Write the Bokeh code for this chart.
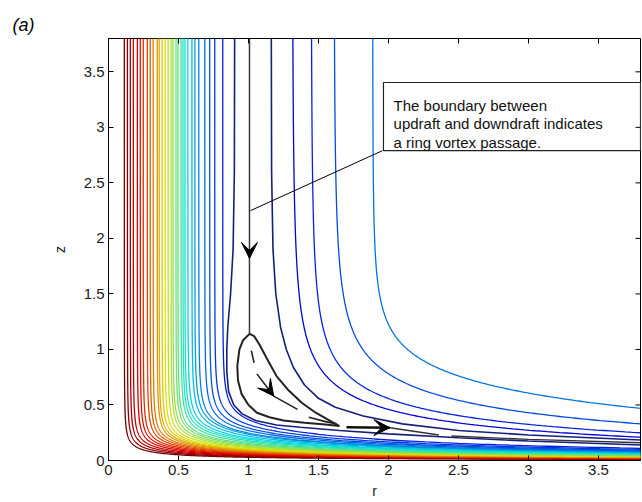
import numpy as np
from bokeh.plotting import figure
from bokeh.models import Range1d, Label, Arrow, VeeHead, FixedTicker
from bokeh.embed import file_html
from bokeh.resources import INLINE

R_MAX, Z_MAX = 3.8, 3.8

# ---------------- data ----------------
# inner (updraft side) contour lines: r where each stands vertical at the top,
# and z where it leaves the right edge of the frame
inner_r_top = [0.113, 0.135, 0.156, 0.177, 0.206, 0.227, 0.248, 0.277, 0.298, 0.319,
               0.348, 0.362, 0.383, 0.404, 0.426, 0.447, 0.461, 0.482, 0.496, 0.518,
               0.532, 0.546, 0.567, 0.596, 0.617, 0.645, 0.688, 0.723, 0.759, 0.816]
inner_z_right = [0.010, 0.012, 0.014, 0.016, 0.018, 0.020, 0.022, 0.024, 0.026, 0.028,
                 0.030, 0.032, 0.034, 0.036, 0.039, 0.042, 0.045, 0.048, 0.051, 0.055,
                 0.059, 0.063, 0.067, 0.072, 0.077, 0.080, 0.086, 0.092, 0.100, 0.110]

# outer (downdraft side) contour lines, with how sharply each bends
outer_r_top = [1.312, 1.447, 1.610, 1.887]
outer_z_right = [0.21, 0.25, 0.33, 0.47]
outer_knee = [2.5, 2.8, 3.0, 4.5]

# dark line just inside the boundary (bends round the vortex)
navy_in_r = [0.901, 0.899, 0.890, 0.872, 0.852, 0.845, 0.845, 0.858, 0.895, 0.955,
             1.050, 1.200, 1.370, 1.650, 2.000, 2.500, 3.000, 3.800]
navy_in_z = [3.80, 2.60, 1.90, 1.50, 1.20, 1.00, 0.80, 0.62, 0.50, 0.42,
             0.36, 0.32, 0.30, 0.27, 0.24, 0.205, 0.175, 0.14]

# dark line just outside the boundary
navy_out_r = [1.163, 1.165, 1.175, 1.195, 1.229, 1.270, 1.320, 1.400, 1.500, 1.620,
              1.820, 2.100, 2.500, 3.000, 3.800]
navy_out_z = [3.80, 2.60, 1.90, 1.50, 1.20, 1.00, 0.84, 0.68, 0.56, 0.48,
              0.40, 0.33, 0.27, 0.23, 0.185]

# boundary between updraft and downdraft
sep_r = [1.007, 1.007]
sep_z = [3.80, 1.14]

# closed ring-vortex streamline
loop_r = [1.007, 0.960, 0.935, 0.920, 0.925, 0.950, 1.000, 1.060, 1.150, 1.250,
          1.400, 1.550, 1.650, 1.580, 1.480, 1.380, 1.280, 1.200, 1.130, 1.080,
          1.040, 1.007]
loop_z = [1.14, 1.08, 1.00, 0.85, 0.72, 0.60, 0.50, 0.43, 0.39, 0.36,
          0.34, 0.325, 0.31, 0.36, 0.43, 0.52, 0.64, 0.76, 0.92, 1.04,
          1.12, 1.14]

# dashed circulation path inside the vortex
dash_r = [[1.02, 1.04], [1.06, 1.18, 1.35], [1.43, 1.55, 1.63]]
dash_z = [[0.99, 0.88], [0.78, 0.58, 0.46], [0.39, 0.35, 0.33]]

# boundary continuing along the ground
ground_r = [[1.70, 2.01], [2.01, 2.36], [2.45, 3.00, 3.80]]
ground_z = [[0.300, 0.295], [0.295, 0.23], [0.22, 0.19, 0.16]]

x_ticks = [0, 0.5, 1, 1.5, 2, 2.5, 3, 3.5]
y_ticks = [0, 0.5, 1, 1.5, 2, 2.5, 3, 3.5]
tick_text = ["0", "0.5", "1", "1.5", "2", "2.5", "3", "3.5"]

note_lines = ["The boundary between",
              "updraft and downdraft indicates",
              "a ring vortex passage."]


# ---------------- helpers ----------------
def jet(t):
    r = min(max(1.5 - abs(4 * t - 3), 0), 1)
    g = min(max(1.5 - abs(4 * t - 2), 0), 1)
    b = min(max(1.5 - abs(4 * t - 1), 0), 1)
    k = 0.88
    return "#%02x%02x%02x" % (int(255 * r * k), int(255 * g * k), int(255 * b * k))


def contour_curve(a, b, n, q):
    s = np.geomspace(1e-7, R_MAX / a - 1.0, 700)
    r = a * (1.0 + s)
    c = b * (1.0 - (a / R_MAX) ** n) ** (1.0 / n)
    z = c * (R_MAX / r) ** q / (1.0 - (a / r) ** n) ** (1.0 / n)
    keep = z < 4.3
    return r[keep].tolist(), z[keep].tolist()


FONT = "Liberation Sans"

p = figure(width=642, height=502, output_backend="svg", toolbar_location=None,
           x_range=Range1d(0, R_MAX), y_range=Range1d(0, Z_MAX),
           min_border_left=108, min_border_right=2, min_border_top=38,
           min_border_bottom=42, background_fill_color="white",
           border_fill_color="white", outline_line_color="black",
           outline_line_width=1)
p.xgrid.visible = False
p.ygrid.visible = False

# panel tag
p.title.text = "(a)"
p.title.text_font = FONT
p.title.text_font_size = "18px"
p.title.text_font_style = "italic"
p.title.text_color = "black"
p.title.align = "left"
p.title.offset = -96
p.title.standoff = 8

# inner contour lines
for i, (a, b) in enumerate(zip(inner_r_top, inner_z_right)):
    rr, zz = contour_curve(a, b, 2.0 + 2.5 * a, 0.8)
    p.line(rr, zz, line_color=jet(1.0 - i * 0.029), line_width=1.3)

# outer contour lines
for i, (a, b, kn) in enumerate(zip(outer_r_top, outer_z_right, outer_knee)):
    rr, zz = contour_curve(a, b, kn, 1.0)
    p.line(rr, zz, line_color=jet(0.12 + 0.045 * i), line_width=1.3)

p.line(navy_in_r, navy_in_z, line_color="#15207e", line_width=1.6)
p.line(navy_out_r, navy_out_z, line_color="#15207e", line_width=1.6)

# boundary, vortex and flow marks
p.line(sep_r, sep_z, line_color="#3a3a3a", line_width=1.5)
p.line(loop_r, loop_z, line_color="#222222", line_width=2.0)
p.multi_line(dash_r, dash_z, line_color="#222222", line_width=1.6)
p.multi_line(ground_r[:1], ground_z[:1], line_color="#111111", line_width=2.6)
p.multi_line(ground_r[1:], ground_z[1:], line_color="#333333", line_width=1.4)

p.add_layout(Arrow(end=VeeHead(size=16, fill_color="black", line_color="black"),
                   x_start=sep_r[0], y_start=2.0, x_end=sep_r[0], y_end=1.82,
                   line_alpha=0))
p.add_layout(Arrow(end=VeeHead(size=16, fill_color="black", line_color="black"),
                   x_start=dash_r[1][0], y_start=dash_z[1][0],
                   x_end=dash_r[1][1], y_end=dash_z[1][1], line_alpha=0))
p.add_layout(Arrow(end=VeeHead(size=16, fill_color="black", line_color="black"),
                   x_start=ground_r[0][0], y_start=ground_z[0][0],
                   x_end=ground_r[0][1], y_end=ground_z[0][1], line_alpha=0))

# annotation box
p.segment(x0=[1.014], y0=[2.25], x1=[1.957], y1=[2.79], line_color="black", line_width=1)
p.quad(left=[1.964], right=[R_MAX], bottom=[2.79], top=[3.404],
       fill_color="white", line_color="#222222", line_width=1.2)
for k, txt in enumerate(note_lines):
    p.add_layout(Label(x=2.036, y=3.197 - 0.165 * k, text=txt,
                       text_font=FONT, text_font_size="15px", text_color="#111111",
                       text_baseline="alphabetic"))

# inward ticks on the top and right frame edges
tick_dz = 5 / 111.0
tick_dr = 5 / 140.0
p.segment(x0=x_ticks, y0=[Z_MAX] * len(x_ticks), x1=x_ticks,
          y1=[Z_MAX - tick_dz] * len(x_ticks), line_color="black", line_width=1)
p.segment(x0=[R_MAX] * len(y_ticks), y0=y_ticks, x1=[R_MAX - tick_dr] * len(y_ticks),
          y1=y_ticks, line_color="black", line_width=1)

# axes
overrides = {t: s for t, s in zip(x_ticks, tick_text)}
for ax in (p.xaxis[0], p.yaxis[0]):
    ax.major_tick_in = 5
    ax.major_tick_out = 0
    ax.minor_tick_line_color = None
    ax.axis_line_color = "black"
    ax.major_tick_line_color = "black"
    ax.major_label_text_font = FONT
    ax.major_label_text_font_size = "15px"
    ax.major_label_text_color = "#1a1a1a"
    ax.axis_label_text_font = FONT
    ax.axis_label_text_font_size = "14px"
    ax.axis_label_text_font_style = "normal"
    ax.axis_label_text_color = "#1a1a1a"
p.xaxis[0].ticker = FixedTicker(ticks=x_ticks)
p.yaxis[0].ticker = FixedTicker(ticks=y_ticks)
p.xaxis[0].major_label_overrides = overrides
p.yaxis[0].major_label_overrides = overrides
p.xaxis[0].axis_label = "r"
p.yaxis[0].axis_label = "z"
p.xaxis[0].major_label_standoff = 4
p.yaxis[0].major_label_standoff = 4
p.xaxis[0].axis_label_standoff = 5
p.yaxis[0].axis_label_standoff = 13

open("out.html", "w").write(file_html(p, INLINE))
